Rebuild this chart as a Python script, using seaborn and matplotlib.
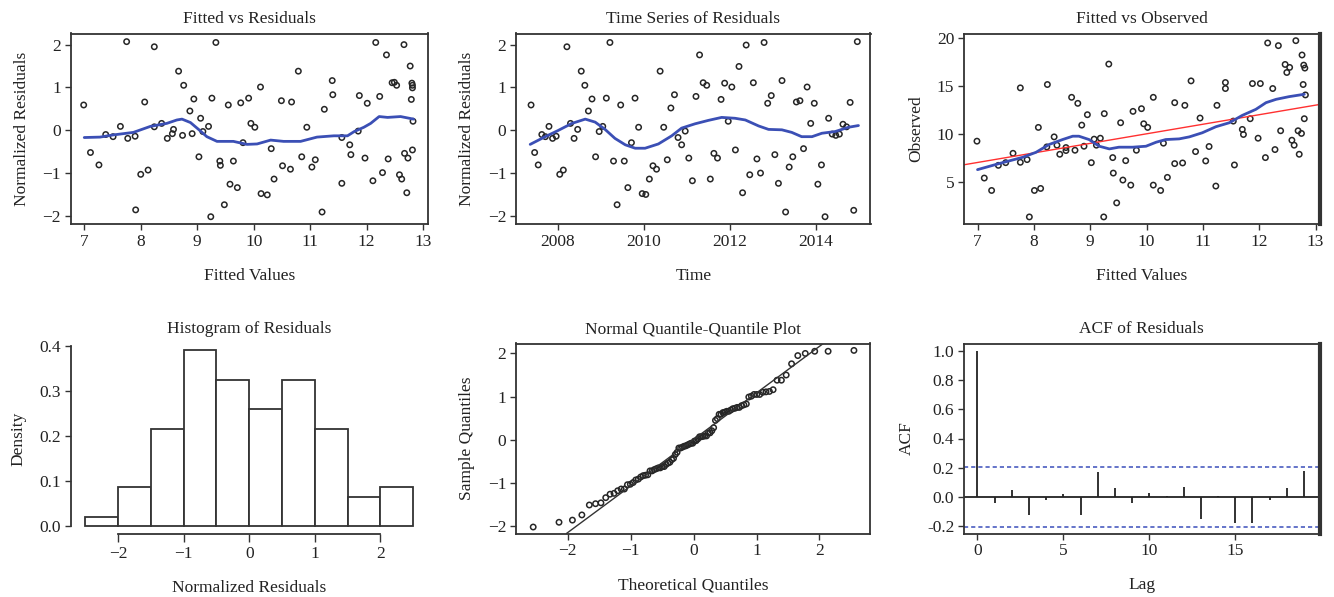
import numpy as np
import pandas as pd
import matplotlib
matplotlib.use("Agg")
import matplotlib.pyplot as plt
import seaborn as sns
from statistics import NormalDist

# fitted values and normalized residuals (Fitted vs Residuals panel)
fitted = [6.99, 7.11, 7.26, 7.38, 7.51, 7.64, 7.75, 7.77, 7.90, 7.91,
          8.00, 8.07, 8.13, 8.24, 8.24, 8.37, 8.47, 8.56, 8.58, 8.67,
          8.74, 8.76, 8.87, 8.91, 8.94, 9.03, 9.06, 9.10, 9.20, 9.24,
          9.26, 9.33, 9.40, 9.41, 9.48, 9.55, 9.58, 9.64, 9.71, 9.77,
          9.81, 9.91, 9.95, 10.02, 10.12, 10.13, 10.24, 10.31, 10.36, 10.49,
          10.51, 10.65, 10.67, 10.79, 10.85, 10.94, 11.03, 11.09, 11.21, 11.25,
          11.39, 11.40, 11.56, 11.56, 11.70, 11.72, 11.85, 11.87, 11.97, 12.01,
          12.11, 12.16, 12.23, 12.28, 12.35, 12.38, 12.45, 12.49, 12.53, 12.58,
          12.62, 12.66, 12.67, 12.71, 12.73, 12.77, 12.79, 12.80, 12.81, 12.82,
          12.81, 12.81]
resid = [0.59, -0.52, -0.81, -0.10, -0.15, 0.09, 2.07, -0.19, -0.14, -1.86,
         -1.03, 0.66, -0.93, 1.95, 0.08, 0.16, -0.19, -0.08, 0.02, 1.38,
         -0.12, 1.05, 0.45, -0.08, 0.73, -0.62, 0.28, -0.03, 0.09, -2.02,
         0.75, 2.05, -0.72, -0.82, -1.74, 0.59, -1.26, -0.72, -1.34, 0.64,
         -0.29, 0.75, 0.16, 0.07, 1.01, -1.48, -1.51, -0.43, -1.14, 0.69,
         -0.83, -0.91, 0.66, 1.38, -0.62, 0.07, -0.86, -0.69, -1.91, 0.49,
         1.16, 0.83, -0.17, -1.24, -0.34, -0.57, -0.02, 0.81, -0.65, 0.63,
         -1.18, 2.05, 0.79, -0.99, 1.76, -0.67, 1.11, 1.12, 1.05, -1.04,
         -1.14, 2.00, -0.54, -1.46, -0.65, 1.50, 0.72, 1.10, 0.99, 0.21,
         -0.46, 1.05]
fit_smooth_x = [7.0, 7.28, 7.51, 7.87, 8.17, 8.46, 8.64, 8.73, 8.88, 9.05, 9.17, 9.35, 9.64, 9.88,
                10.06, 10.30, 10.53, 10.83, 11.12, 11.42, 11.66, 11.78, 11.95, 12.07, 12.22, 12.37,
                12.60, 12.83]
fit_smooth_y = [-0.17, -0.16, -0.11, -0.05, 0.09, 0.16, 0.24, 0.26, 0.18, -0.01, -0.15, -0.26, -0.26,
                -0.33, -0.32, -0.23, -0.26, -0.26, -0.16, -0.13, -0.13, -0.03, 0.07, 0.16, 0.32, 0.30,
                0.32, 0.26]

# residuals in time order, monthly
ts_start = 2007.38
ts_resid = [0.59, -0.52, -0.81, -0.10, -0.15, 0.09, -0.19, -0.14, -1.03, -0.93,
            1.95, 0.16, -0.19, 0.02, 1.38, 1.05, 0.45, 0.73, -0.62, -0.03,
            0.09, 0.75, 2.05, -0.72, -1.74, 0.59, -0.72, -1.34, -0.29, 0.75,
            0.07, -1.48, -1.50, -1.14, -0.83, -0.91, 1.38, 0.07, -0.69, 0.52,
            0.83, -0.17, -0.34, -0.02, -0.65, -1.18, 0.79, 1.76, 1.11, 1.05,
            -1.14, -0.54, -0.65, 0.72, 1.10, 0.21, 1.01, -0.46, 1.49, -1.46,
            1.99, -1.04, 1.11, -0.67, -1.00, 2.05, 0.63, 0.81, -0.57, -1.24,
            1.16, -1.91, -0.86, -0.62, 0.66, 0.69, -0.43, 1.01, 0.16, 0.63,
            -1.26, -0.81, -2.02, 0.28, -0.09, -0.12, -0.09, 0.14, 0.08, 0.65,
            -1.87, 2.07]
ts_smooth_x = [2007.36, 2007.71, 2008.0, 2008.33, 2008.64, 2008.87, 2009.10, 2009.33, 2009.57, 2009.80,
               2010.03, 2010.34, 2010.65, 2010.88, 2011.19, 2011.50, 2011.81, 2012.12, 2012.36, 2012.67,
               2012.90, 2013.21, 2013.44, 2013.67, 2013.91, 2014.14, 2014.45, 2014.76, 2014.99]
ts_smooth_y = [-0.33, -0.15, -0.01, 0.16, 0.26, 0.19, 0.02, -0.19, -0.34, -0.42, -0.42, -0.32, -0.13,
               0.05, 0.15, 0.23, 0.30, 0.28, 0.24, 0.10, 0.02, 0.01, -0.05, -0.15, -0.15, -0.07, -0.03,
               0.07, 0.11]

# fitted vs observed
obs_fitted = [6.99, 7.12, 7.25, 7.37, 7.50, 7.63, 7.76, 7.76, 7.88, 7.92,
              8.01, 8.08, 8.12, 8.24, 8.23, 8.36, 8.41, 8.46, 8.57, 8.57,
              8.67, 8.73, 8.78, 8.85, 8.89, 8.95, 9.02, 9.07, 9.11, 9.18,
              9.24, 9.25, 9.33, 9.40, 9.41, 9.47, 9.54, 9.58, 9.63, 9.72,
              9.76, 9.82, 9.91, 9.95, 10.02, 10.12, 10.12, 10.25, 10.30, 10.37,
              10.50, 10.50, 10.64, 10.68, 10.79, 10.87, 10.95, 11.05, 11.11, 11.23,
              11.25, 11.40, 11.40, 11.54, 11.56, 11.70, 11.72, 11.84, 11.88, 11.98,
              12.02, 12.11, 12.15, 12.24, 12.28, 12.34, 12.38, 12.46, 12.49, 12.54,
              12.58, 12.62, 12.65, 12.69, 12.71, 12.75, 12.76, 12.78, 12.79, 12.81,
              12.80, 12.82]
observed = [9.23, 5.37, 4.07, 6.70, 6.98, 7.96, 14.81, 7.02, 7.30, 1.30,
            4.07, 10.67, 4.28, 15.16, 8.63, 9.68, 8.81, 7.86, 8.56, 8.25,
            13.82, 8.28, 13.19, 10.91, 8.70, 12.00, 6.98, 9.44, 8.81, 9.54,
            1.30, 12.11, 17.30, 7.51, 5.89, 2.77, 11.16, 5.16, 7.19, 4.63,
            12.35, 8.28, 12.63, 11.05, 10.67, 13.82, 4.63, 4.07, 9.02, 5.44,
            13.26, 6.88, 6.95, 12.98, 15.54, 8.14, 11.65, 7.16, 8.67, 4.53,
            12.98, 15.37, 14.74, 11.33, 6.74, 10.46, 9.93, 11.58, 15.26, 9.54,
            15.26, 7.51, 19.51, 14.74, 8.35, 19.23, 10.32, 17.26, 16.42, 16.95,
            9.33, 8.81, 19.75, 10.32, 7.86, 10.04, 18.25, 15.16, 17.19, 16.88,
            11.58, 14.07]
obs_smooth_x = [7.0, 7.38, 7.80, 8.04, 8.27, 8.51, 8.69, 8.80, 8.98, 9.16, 9.34, 9.51, 9.75, 9.99,
                10.17, 10.34, 10.58, 10.76, 10.99, 11.23, 11.47, 11.70, 11.94, 12.12, 12.30, 12.53, 12.80]
obs_smooth_y = [6.25, 6.88, 7.54, 8.07, 8.88, 9.40, 9.75, 9.75, 9.40, 8.70, 8.42, 8.60, 8.60, 8.70,
                9.12, 9.40, 9.47, 9.68, 10.11, 10.74, 11.16, 11.93, 12.56, 13.26, 13.61, 13.89, 14.14]

# autocorrelation of residuals, lags 0-19
acf_lags = list(range(20))
acf_vals = [1.0, -0.04, 0.05, -0.12, -0.02, 0.02, -0.12, 0.17, 0.06, -0.04,
            0.03, 0.01, 0.065, -0.15, 0.01, -0.18, -0.18, -0.02, 0.06, 0.175]

sns.set_theme(style="ticks")
plt.rcParams["font.family"] = ["Liberation Serif", "DejaVu Serif"]
plt.rcParams["font.size"] = 12
plt.rcParams["axes.edgecolor"] = "#333333"
plt.rcParams["axes.linewidth"] = 1.3
plt.rcParams["xtick.color"] = "#333333"
plt.rcParams["ytick.color"] = "#333333"
plt.rcParams["xtick.labelcolor"] = "#222222"
plt.rcParams["ytick.labelcolor"] = "#222222"
plt.rcParams["xtick.labelsize"] = 12.5
plt.rcParams["ytick.labelsize"] = 12.5

W, H = 1334, 597
fig = plt.figure(figsize=(W / 100, H / 100), dpi=100)

def make_ax(left, top, right, bottom):
    return fig.add_axes([left / W, 1 - bottom / H, (right - left) / W, (bottom - top) / H])

cols = [(70.7, 427.7), (516, 870.5), (964, 1319.5)]
rows = [(33.5, 224), (343.5, 533.5)]
axes = [[make_ax(c[0], r[0], c[1], r[1]) for c in cols] for r in rows]

pt_kw = dict(s=15, facecolor="none", edgecolor="#262626", linewidth=1.1)
blue = "#3b4fb5"
text_col = "#222222"

def style(ax, title, xlabel, ylabel):
    ax.set_title(title, fontsize=12.5, color=text_col, pad=7.5)
    ax.set_xlabel(xlabel, fontsize=12.5, color=text_col, labelpad=13)
    ax.set_ylabel(ylabel, fontsize=12.5, color=text_col, labelpad=9)
    ax.tick_params(direction="out", length=4, width=1, pad=3)
    ax.set_facecolor("white")

# Fitted vs Residuals
ax = axes[0][0]
sns.scatterplot(x=fitted, y=resid, ax=ax, **pt_kw)
sns.lineplot(x=fit_smooth_x, y=fit_smooth_y, ax=ax, color=blue, linewidth=2, sort=False)
ax.set_xlim(6.76, 13.08)
ax.set_ylim(-2.19, 2.26)
ax.set_xticks(range(7, 14))
ax.set_yticks([-2, -1, 0, 1, 2])
style(ax, "Fitted vs Residuals", "Fitted Values", "Normalized Residuals")

# Time series of residuals
ax = axes[0][1]
ts_time = ts_start + np.arange(len(ts_resid)) / 12
sns.scatterplot(x=ts_time, y=ts_resid, ax=ax, **pt_kw)
sns.lineplot(x=ts_smooth_x, y=ts_smooth_y, ax=ax, color=blue, linewidth=2, sort=False)
ax.set_xlim(2007.03, 2015.27)
ax.set_ylim(-2.19, 2.26)
ax.set_xticks([2008, 2010, 2012, 2014])
ax.set_yticks([-2, -1, 0, 1, 2])
style(ax, "Time Series of Residuals", "Time", "Normalized Residuals")

# Fitted vs Observed
ax = axes[0][2]
sns.scatterplot(x=obs_fitted, y=observed, ax=ax, **pt_kw)
ax.axline((0, 0), slope=1, color="#ff3030", linewidth=1)
sns.lineplot(x=obs_smooth_x, y=obs_smooth_y, ax=ax, color=blue, linewidth=2, sort=False)
ax.set_xlim(6.76, 13.07)
ax.set_ylim(0.56, 20.5)
ax.set_xticks(range(7, 14))
ax.set_yticks([5, 10, 15, 20])
ax.spines["right"].set_linewidth(3)
style(ax, "Fitted vs Observed", "Fitted Values", "Observed")

# Histogram
ax = axes[1][0]
sns.histplot(x=resid, bins=np.linspace(-2.5, 2.5, 11), stat="density", ax=ax,
             color="white", edgecolor="#333333", linewidth=1.3, alpha=1)
ax.set_xlim(-2.72, 2.72)
ax.set_ylim(-0.0156, 0.4064)
ax.set_xticks([-2, -1, 0, 1, 2])
ax.set_yticks([0.0, 0.1, 0.2, 0.3, 0.4])
sns.despine(ax=ax, trim=True)
style(ax, "Histogram of Residuals", "Normalized Residuals", "Density")
ax.tick_params(axis="x", length=6)

# Normal Q-Q
ax = axes[1][1]
n = len(resid)
probs = (np.arange(1, n + 1) - 0.5) / n
theo = np.array([NormalDist().inv_cdf(p) for p in probs])
sample = np.sort(resid)
sns.scatterplot(x=theo, y=sample, ax=ax, **pt_kw)
q_s = np.quantile(sample, [0.25, 0.75])
q_t = np.array([NormalDist().inv_cdf(0.25), NormalDist().inv_cdf(0.75)])
slope = (q_s[1] - q_s[0]) / (q_t[1] - q_t[0])
ax.axline((q_t[0], q_s[0]), slope=slope, color="#333333", linewidth=1)
ax.set_xlim(-2.82, 2.81)
ax.set_ylim(-2.17, 2.23)
ax.set_xticks([-2, -1, 0, 1, 2])
ax.set_yticks([-2, -1, 0, 1, 2])
style(ax, "Normal Quantile-Quantile Plot", "Theoretical Quantiles", "Sample Quantiles")

# ACF
ax = axes[1][2]
ci = 1.96 / np.sqrt(n)
ax.vlines(acf_lags, 0, acf_vals, color="#222222", linewidth=1.3)
ax.axhline(0, color="#222222", linewidth=1.3)
ax.axhline(ci, color="#4a5cc0", linestyle=(0, (2.5, 1.8)), linewidth=1.2)
ax.axhline(-ci, color="#4a5cc0", linestyle=(0, (2.5, 1.8)), linewidth=1.2)
ax.set_xlim(-0.78, 19.9)
ax.set_ylim(-0.25, 1.05)
ax.set_xticks([0, 5, 10, 15])
ax.set_yticks([-0.2, 0.0, 0.2, 0.4, 0.6, 0.8, 1.0])
ax.yaxis.set_major_formatter(matplotlib.ticker.FormatStrFormatter("%.1f"))
ax.spines["right"].set_linewidth(3)
style(ax, "ACF of Residuals", "Lag", "ACF")

fig.savefig("out.png", dpi=100, facecolor="white")
